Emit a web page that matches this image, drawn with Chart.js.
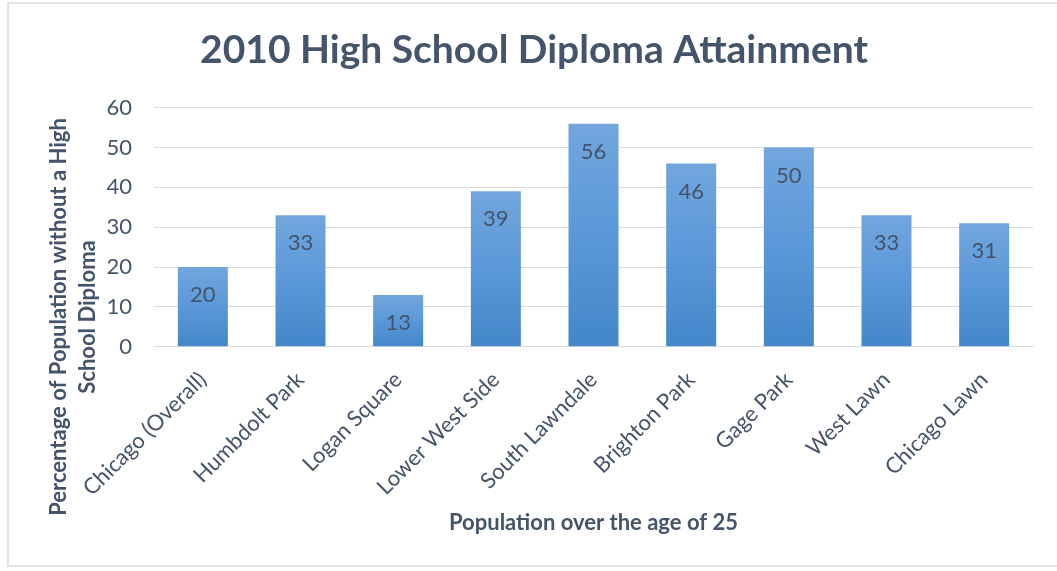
<!DOCTYPE html>
<html>
<head>
<meta charset="utf-8">
<title>2010 High School Diploma Attainment</title>
<script src="https://cdn.jsdelivr.net/npm/chart.js@4.4.1/dist/chart.umd.min.js"></script>
<style>
    html, body { margin: 0; padding: 0; background: #ffffff; }
    #wrap { position: relative; width: 1057px; height: 571px; overflow: hidden; }
    #frame {
        position: absolute; left: 7px; top: 2px; width: 1100px; height: 565px;
        border: 2px solid #dfe3e8; box-sizing: border-box; pointer-events: none;
    }
    canvas { position: absolute; left: 0; top: 0; }
</style>
</head>
<body>
<div id="wrap">
    <canvas id="chart" width="1057" height="571"></canvas>
    <div id="frame"></div>
</div>
<script>
// Community areas and share of adults (25+) without a diploma
const neighborhoods = [
    'Chicago (Overall)', 'Humbdolt Park', 'Logan Square', 'Lower West Side',
    'South Lawndale', 'Brighton Park', 'Gage Park', 'West Lawn', 'Chicago Lawn'
];
const noDiplomaPct = [20, 33, 13, 39, 56, 46, 50, 33, 31];
const yTicks = [0, 10, 20, 30, 40, 50, 60];

const chartTitle = '2010 High School Diploma Attainment';
const yTitleLines = ['Percentage of Population without a High', 'School Diploma'];
const xTitle = 'Population over the age of 25';

const TEXT = '#44546A';
const FONT = 'Lato, "Open Sans", sans-serif';

/**
 * Vertical gradient per bar: lighter at the top, darker at the base
 */
function barGradient(context) {
    const chart = context.chart;
    if (!chart.chartArea || context.type !== 'data') return '#5b9bd5';
    const y = chart.scales.y;
    const top = y.getPixelForValue(context.raw);
    const base = y.getPixelForValue(0);
    const g = chart.ctx.createLinearGradient(0, top, 0, base);
    g.addColorStop(0, '#72a6dd');
    g.addColorStop(0.5, '#5a98d8');
    g.addColorStop(1, '#4387c8');
    return g;
}

// Value labels drawn inside each bar, just under its top
const barValues = {
    id: 'barValues',
    afterDatasetsDraw(chart) {
        const ctx = chart.ctx;
        const meta = chart.getDatasetMeta(0);
        ctx.save();
        ctx.font = '22px ' + FONT;
        ctx.fillStyle = TEXT;
        ctx.textAlign = 'center';
        ctx.textBaseline = 'middle';
        meta.data.forEach((bar, i) => {
            ctx.fillText(String(chart.data.datasets[0].data[i]), bar.x, bar.y + 28);
        });
        ctx.restore();
    }
};

// Two-line rotated y axis title, centred lower than the plot area
const yAxisTitle = {
    id: 'yAxisTitle',
    afterDraw(chart) {
        const ctx = chart.ctx;
        const cols = [59, 88];
        ctx.save();
        ctx.font = 'bold 22px ' + FONT;
        ctx.fillStyle = TEXT;
        ctx.textAlign = 'center';
        ctx.textBaseline = 'middle';
        yTitleLines.forEach((line, i) => {
            ctx.save();
            ctx.translate(cols[i], 317);
            ctx.rotate(-Math.PI / 2);
            ctx.fillText(line, 0, 0);
            ctx.restore();
        });
        ctx.restore();
    }
};

const ctx = document.getElementById('chart').getContext('2d');

new Chart(ctx, {
    type: 'bar',
    data: {
        labels: neighborhoods,
        datasets: [{
            data: noDiplomaPct,
            backgroundColor: barGradient,
            borderWidth: 0,
            barPercentage: 0.512,
            categoryPercentage: 1
        }]
    },
    options: {
        responsive: false,
        animation: false,
        layout: {
            // left padding keeps the title centred where it belongs
            padding: { left: 35, right: 24, top: 0, bottom: 0 }
        },
        plugins: {
            legend: { display: false },
            tooltip: { enabled: false },
            title: {
                display: true,
                text: chartTitle,
                color: TEXT,
                font: { family: FONT, size: 39, weight: 'bold', lineHeight: 1.2 },
                padding: { top: 26.6, bottom: 34.3 }
            }
        },
        scales: {
            x: {
                grid: { display: false },
                border: { display: true, color: '#d9d9d9', width: 1 },
                ticks: {
                    color: TEXT,
                    font: { family: FONT, size: 22 },
                    minRotation: 45,
                    maxRotation: 45,
                    autoSkip: false,
                    padding: 12
                },
                title: {
                    display: true,
                    text: xTitle,
                    color: TEXT,
                    font: { family: FONT, size: 22, weight: 'bold', lineHeight: 1.2 },
                    padding: { top: 0, bottom: 35 }
                },
                afterFit(scale) {
                    scale.height = 224.3;
                }
            },
            y: {
                min: 0,
                max: 60,
                afterBuildTicks(scale) {
                    scale.ticks = yTicks.map(v => ({ value: v }));
                },
                grid: { color: '#d9d9d9', lineWidth: 1, drawTicks: false },
                border: { display: false },
                ticks: {
                    color: TEXT,
                    font: { family: FONT, size: 22 },
                    padding: 22
                },
                afterFit(scale) {
                    scale.width = 119;
                }
            }
        }
    },
    plugins: [barValues, yAxisTitle]
});
</script>
</body>
</html>
